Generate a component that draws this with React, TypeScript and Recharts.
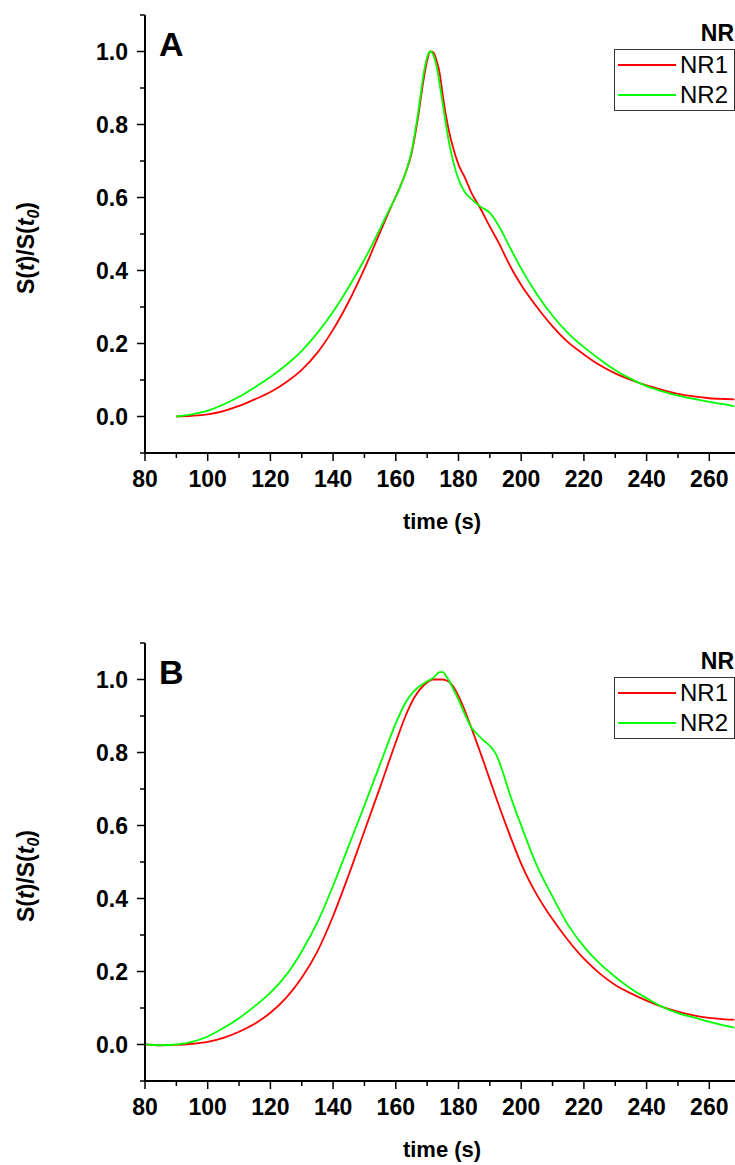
import { LineChart, Line, XAxis, YAxis, Legend, Customized } from 'recharts'

const FONT = '"Liberation Sans", Arial, Helvetica, sans-serif'
const RED = '#ff0000'
const GREEN = '#00ff00'

// panel A
const timeA = [90, 95, 100, 105, 110, 115, 120, 125, 130, 135, 140, 145, 150, 155, 158, 161, 163, 165, 167, 169, 170, 171, 172, 173, 174, 175, 176, 177, 178, 180, 182, 184, 187, 190, 193, 196, 200, 205, 210, 215, 220, 225, 230, 235, 240, 245, 250, 255, 260, 265, 268]
const nr1A = [0, 0.002, 0.006, 0.015, 0.029, 0.047, 0.067, 0.094, 0.128, 0.175, 0.238, 0.315, 0.405, 0.505, 0.565, 0.622, 0.665, 0.72, 0.815, 0.93, 0.975, 1.0, 0.997, 0.975, 0.94, 0.88, 0.825, 0.78, 0.745, 0.69, 0.655, 0.615, 0.57, 0.52, 0.473, 0.42, 0.36, 0.3, 0.247, 0.203, 0.17, 0.141, 0.118, 0.1, 0.085, 0.073, 0.062, 0.055, 0.05, 0.048, 0.047]
const nr2A = [0, 0.006, 0.016, 0.033, 0.054, 0.08, 0.108, 0.141, 0.18, 0.229, 0.287, 0.355, 0.43, 0.515, 0.568, 0.62, 0.665, 0.725, 0.825, 0.945, 0.985, 1.0, 0.99, 0.96, 0.91, 0.855, 0.8, 0.75, 0.71, 0.65, 0.615, 0.597, 0.575, 0.558, 0.52, 0.47, 0.405, 0.335, 0.276, 0.228, 0.19, 0.157, 0.127, 0.103, 0.083, 0.069, 0.057, 0.048, 0.04, 0.033, 0.028]

// panel B
const timeB = [80, 85, 90, 95, 100, 105, 110, 115, 120, 125, 130, 135, 140, 145, 150, 155, 160, 163, 166, 169, 172, 174, 175, 176, 178, 180, 182, 184, 186, 188, 190, 192, 194, 196, 200, 205, 210, 215, 220, 225, 230, 235, 240, 245, 250, 255, 260, 265, 268]
const nr1B = [0, -0.002, -0.001, 0.002, 0.007, 0.018, 0.035, 0.057, 0.087, 0.128, 0.183, 0.255, 0.352, 0.465, 0.585, 0.705, 0.828, 0.898, 0.952, 0.985, 1.0, 1.0, 1.0, 0.998, 0.985, 0.955, 0.915, 0.87, 0.823, 0.775, 0.725, 0.676, 0.628, 0.582, 0.495, 0.41, 0.343, 0.285, 0.235, 0.195, 0.163, 0.14, 0.12, 0.103, 0.09, 0.08, 0.073, 0.069, 0.068]
const nr2B = [0, -0.002, 0, 0.007, 0.022, 0.045, 0.072, 0.105, 0.142, 0.19, 0.255, 0.335, 0.435, 0.545, 0.655, 0.768, 0.88, 0.935, 0.97, 0.99, 1.005, 1.02, 1.02, 1.01, 0.98, 0.945, 0.905, 0.87, 0.85, 0.833, 0.818, 0.795, 0.75, 0.695, 0.6, 0.49, 0.405, 0.327, 0.268, 0.222, 0.185, 0.153, 0.127, 0.103, 0.086, 0.074, 0.062, 0.052, 0.046]

const xTicks = [80, 90, 100, 110, 120, 130, 140, 150, 160, 170, 180, 190, 200, 210, 220, 230, 240, 250, 260, 270, 280]
const yTicks = [-0.1, 0, 0.1, 0.2, 0.3, 0.4, 0.5, 0.6, 0.7, 0.8, 0.9, 1.0, 1.1]

const toRows = (t: number[], a: number[], b: number[]) =>
  t.map((v, i) => ({ t: v, nr1: a[i], nr2: b[i] }))

function XTick({ x, y, payload }: any) {
  const v = payload.value
  const major = v % 20 === 0
  return (
    <g>
      <line x1={x} x2={x} y1={y} y2={y + (major ? 8 : 5)} stroke="#000" strokeWidth={1.5} />
      {major && v <= 260 && (
        <text x={x} y={y + 34} textAnchor="middle" fontFamily={FONT} fontWeight="bold" fontSize={23} fill="#000">
          {v}
        </text>
      )}
    </g>
  )
}

function TopTick({ x, y }: any) {
  return <line x1={x} x2={x} y1={y} y2={y + 3} stroke="#000" strokeWidth={1.2} />
}

function YTick({ x, y, payload }: any) {
  const v = payload.value
  const k = Math.round(v * 10)
  const major = k % 2 === 0 && k >= 0 && k <= 10
  return (
    <g>
      <line x1={x - (major ? 8 : 5)} x2={x} y1={y} y2={y} stroke="#000" strokeWidth={1.5} />
      {major && (
        <text x={x - 17} y={y + 8} textAnchor="end" fontFamily={FONT} fontWeight="bold" fontSize={23} fill="#000">
          {(k / 10).toFixed(1)}
        </text>
      )}
    </g>
  )
}

function YTitle({ viewBox }: any) {
  const cy = viewBox.y + viewBox.height / 2 + 14
  return (
    <text transform={`translate(34, ${cy}) rotate(-90)`} textAnchor="middle" fontFamily={FONT} fontWeight="bold" fontSize={23} fill="#000">
      S(<tspan fontStyle="italic">t</tspan>)/S(<tspan fontStyle="italic">t</tspan>
      <tspan fontStyle="italic" fontSize={16} dy={5}>0</tspan>
      <tspan dy={-5}>)</tspan>
    </text>
  )
}

function XTitle({ viewBox }: any) {
  return (
    <text x={442} y={viewBox.y + 76} textAnchor="middle" fontFamily={FONT} fontWeight="bold" fontSize={22} fill="#000">
      time (s)
    </text>
  )
}

function NrLegend({ payload }: any) {
  return (
    <div style={{ fontFamily: FONT, width: 121, color: '#000' }}>
      <div style={{ textAlign: 'right', fontWeight: 'bold', fontSize: 23, lineHeight: '23px', paddingRight: 1 }}>NR</div>
      <div style={{ marginTop: 4, border: '1.5px solid #333', boxSizing: 'border-box', height: 62 }}>
        {(payload || []).map((p: any) => (
          <div key={p.value} style={{ display: 'flex', alignItems: 'center', height: 30 }}>
            <span style={{ width: 58, marginLeft: 3, marginRight: 4, borderTop: `2px solid ${p.color}` }} />
            <span style={{ fontSize: 24, lineHeight: '24px' }}>{p.value}</span>
          </div>
        ))}
      </div>
    </div>
  )
}

function Panel({ rows, letter, top }: { rows: any[]; letter: string; top: number }) {
  return (
    <div style={{ position: 'absolute', left: 0, top }}>
      <LineChart width={800} height={560} data={rows} margin={{ top: 15, right: 28, bottom: 27, left: 0 }}>
        <XAxis
          dataKey="t"
          type="number"
          domain={[80, 280]}
          ticks={xTicks}
          interval={0}
          allowDataOverflow
          height={80}
          tickSize={0}
          tickMargin={0}
          tickLine={false}
          axisLine={{ stroke: '#000', strokeWidth: 2 }}
          tick={(p: any) => <XTick {...p} />}
          label={<XTitle />}
        />
        <XAxis
          xAxisId="top"
          orientation="top"
          type="number"
          domain={[80, 280]}
          ticks={xTicks}
          interval={0}
          allowDataOverflow
          height={0}
          tickSize={0}
          tickMargin={0}
          tickLine={false}
          axisLine={{ stroke: '#000', strokeWidth: 2 }}
          tick={(p: any) => <TopTick {...p} />}
        />
        <YAxis
          type="number"
          domain={[-0.1, 1.1]}
          ticks={yTicks}
          interval={0}
          allowDataOverflow
          width={145}
          tickSize={0}
          tickMargin={0}
          tickLine={false}
          axisLine={{ stroke: '#000', strokeWidth: 2 }}
          tick={(p: any) => <YTick {...p} />}
          label={<YTitle />}
        />
        <Line type="monotone" dataKey="nr1" name="NR1" stroke={RED} strokeWidth={1.8} dot={false} isAnimationActive={false} />
        <Line type="monotone" dataKey="nr2" name="NR2" stroke={GREEN} strokeWidth={1.8} dot={false} isAnimationActive={false} />
        <Legend
          layout="vertical"
          align="center"
          verticalAlign="middle"
          content={(p: any) => <NrLegend {...p} />}
          wrapperStyle={{ position: 'absolute', top: 22, left: 614, width: 121, margin: 0 }}
        />
        <Customized
          component={() => (
            <text x={159} y={56} fontFamily={FONT} fontWeight="bold" fontSize={34} fill="#000">
              {letter}
            </text>
          )}
        />
      </LineChart>
    </div>
  )
}

export default function App() {
  return (
    <div style={{ position: 'fixed', left: 0, top: 0, width: 735, height: 1165, overflow: 'hidden', background: '#fff' }}>
      <Panel rows={toRows(timeA, nr1A, nr2A)} letter="A" top={0} />
      <Panel rows={toRows(timeB, nr1B, nr2B)} letter="B" top={628} />
    </div>
  )
}
